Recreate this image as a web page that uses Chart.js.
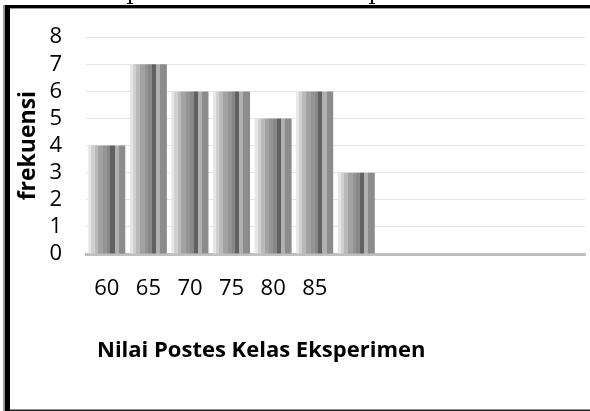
<!DOCTYPE html>
<html>
<head>
<meta charset="utf-8">
<script src="https://cdn.jsdelivr.net/npm/chart.js@4.4.1/dist/chart.umd.min.js"></script>
<style>
html, body { margin: 0; padding: 0; background: #fff; }
</style>
</head>
<body>
<canvas id="chart" width="590" height="411"></canvas>
<script>
// data
var nilai = ["60", "65", "70", "75", "80", "85", "", "", "", "", "", ""];
var frekuensi = [4, 7, 6, 6, 5, 6, 3, null, null, null, null, null];
var xTitle = "Nilai Postes Kelas Eksperimen";
var yTitle = "frekuensi";

// vertical stripes inside each bar: [from, to, colour]
var stripes = [
	[0.00, 0.08, "#e6e6e6"],
	[0.08, 0.17, "#d0d0d0"],
	[0.17, 0.27, "#bababa"],
	[0.27, 0.40, "#a2a2a2"],
	[0.40, 0.50, "#949494"],
	[0.50, 0.60, "#888888"],
	[0.60, 0.71, "#616161"],
	[0.71, 0.82, "#b0b0b0"],
	[0.82, 1.00, "#8c8c8c"]
];
var barFrac = 0.89;

function stripeFill(ctx) {
	var chart = ctx.chart;
	var x = chart.scales.x;
	if (!x || ctx.type !== "data") return "#999";
	var cx = x.getPixelForValue(ctx.dataIndex);
	var w = x.width / nilai.length * barFrac;
	if (!isFinite(cx) || !isFinite(w) || w <= 0) return "#999";
	var g = chart.ctx.createLinearGradient(cx - w / 2, 0, cx + w / 2, 0);
	stripes.forEach(s => {
		g.addColorStop(s[0], s[2]);
		g.addColorStop(s[1], s[2]);
	});
	return g;
}

// border round the picture + the bottom title
var frame = {
	id: "frame",
	afterDraw: function(chart) {
		var c = chart.ctx, a = chart.chartArea;
		c.save();
		c.fillStyle = "#000";
		c.fillRect(5, 5, 585, 3);
		c.fillRect(5, 5, 5, 406);
		c.fillStyle = "#9a9a9a";
		c.fillRect(10, 8, 580, 1);
		c.fillRect(3, 5, 2, 406);
		c.fillStyle = "#222";
		c.fillRect(10, 409.5, 580, 1.5);
		// bits of the caption above
		c.fillStyle = "#000";
		[130, 372].forEach(px => {
			c.fillRect(px - 1, 0, 2, 3);
			c.fillRect(px - 3, 3, 6, 1);
		});
		c.font = "bold 22px 'Open Sans'";
		c.textBaseline = "alphabetic";
		c.textAlign = "left";
		c.fillText(xTitle, a.left + 11, 356.5);
		c.restore();
	}
};

var ctx = document.getElementById("chart").getContext("2d");
var chart = new Chart(ctx, {
	type: "bar",
	data: {
		labels: nilai,
		datasets: [{
			label: yTitle,
			data: frekuensi,
			backgroundColor: stripeFill,
			borderWidth: 0,
			categoryPercentage: barFrac,
			barPercentage: 1
		}]
	},
	options: {
		responsive: false,
		animation: false,
		layout: { padding: { top: 37, right: 5, left: 0, bottom: 0 } },
		plugins: { legend: { display: false }, tooltip: { enabled: false } },
		scales: {
			x: {
				z: 1,
				grid: { display: false, drawTicks: false },
				border: { display: true, color: "#bfbfbf", width: 3 },
				ticks: {
					autoSkip: false, maxRotation: 0, padding: 22, color: "#000",
					font: { family: "'Open Sans'", size: 22 }
				},
				afterFit: function(s) { s.height = 157; }
			},
			y: {
				min: 0, max: 8,
				grid: { color: "#e6e6e6", lineWidth: 1, drawTicks: false },
				border: { display: false },
				ticks: {
					stepSize: 1, autoSkip: false, padding: 24, color: "#000",
					font: { family: "'Open Sans'", size: 22 }
				},
				title: {
					display: true, text: yTitle, color: "#000",
					padding: { top: 15, bottom: 0 },
					font: { family: "'Open Sans'", size: 23, weight: "bold" }
				},
				afterFit: function(s) { s.width = 86; }
			}
		}
	},
	plugins: [frame]
});
</script>
</body>
</html>
